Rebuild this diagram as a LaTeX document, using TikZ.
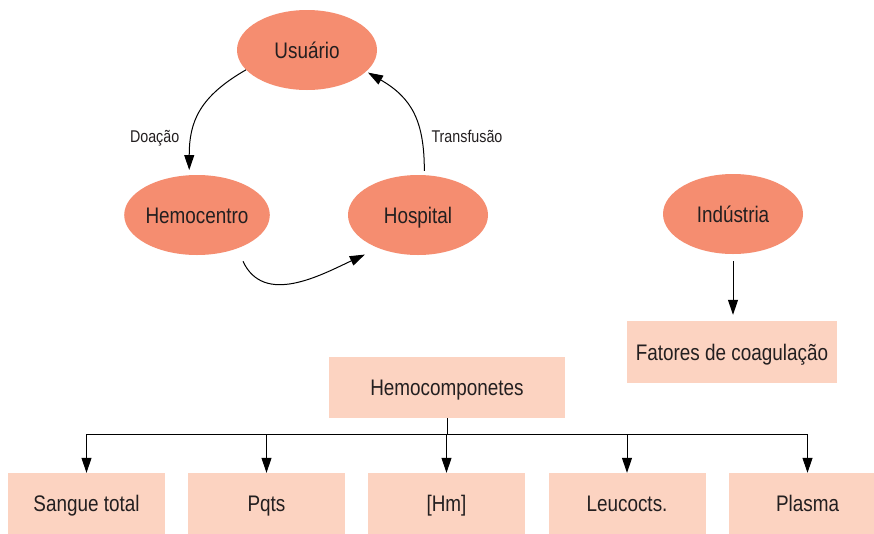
\documentclass[tikz,border=0pt]{standalone}
\usepackage{fontspec}
\setmainfont[FakeStretch=0.84]{Liberation Sans}
\usetikzlibrary{shapes.geometric,arrows.meta}
\definecolor{elfill}{RGB}{245,141,112}
\definecolor{boxfill}{RGB}{252,211,193}
\definecolor{ink}{RGB}{35,31,32}

\begin{document}
\begin{tikzpicture}[x=1pt,y=-1pt,
		ent/.style={ellipse, fill=elfill, minimum width=140pt, minimum height=80pt, inner sep=0pt, text=ink, font=\fontsize{22.5}{24}\selectfont, text height=16pt, text depth=0pt},
		comp/.style={rectangle, fill=boxfill, minimum width=157pt, minimum height=61pt, inner sep=0pt, text=ink, font=\fontsize{22.5}{24}\selectfont, text height=16pt, text depth=0pt},
		flow/.style={line width=1pt, -{Triangle[length=15pt,width=10pt]}},
		lbl/.style={text=ink, font=\fontsize{17}{19}\selectfont}]
		\clip (0,0) rectangle (874,533);
		\fill[white] (0,0) rectangle (874,533);
		% ciclo do sangue
		\node[ent] (usu) at (307,50) {Usuário};
		\node[ent] (hemo) at (197,215) {Hemocentro};
		\node[ent] (hosp) at (418,215) {Hospital};
		\draw[flow, shorten >=5pt] (usu.198) to[out=210, in=90, looseness=1.15]
		node[lbl, left, pos=0.74, inner xsep=12pt] {Doação} (hemo.101);
		\draw[flow, shorten <=4pt, shorten >=2pt] (hosp.81) to[out=90, in=-30, looseness=1.15]
		node[lbl, right, pos=0.28, inner xsep=10pt] {Transfusão} (usu.340);
		\draw[flow, shorten <=14pt, shorten >=15pt] (hemo.-40) to[out=-65, in=205, looseness=1.15] (hosp.220);
		% industria
		\node[ent] (ind) at (733,214) {Indústria};
		\node[comp, minimum width=210pt, minimum height=62pt] (fat) at (732,352) {Fatores de coagulação};
		\draw[flow, shorten <=7pt, shorten >=6pt] (ind.south) -- (fat.north -| ind.south);
		% hemocomponentes
		\node[comp, minimum width=236pt] (hemoc) at (447,387.5) {Hemocomponetes};
		\node[comp] (sangue) at (86.5,503.5) {Sangue total};
		\node[comp] (pqts) at (266.5,503.5) {Pqts};
		\node[comp] (hm) at (446.5,503.5) {[Hm]};
		\node[comp] (leuco) at (627,503.5) {Leucocts.};
		\node[comp] (plasma) at (807.5,503.5) {Plasma};
		\draw[line width=1pt] (hemoc.south) -- ++(0,16) coordinate (bus);
		\foreach \n in {sangue,pqts,hm,leuco,plasma}
		\draw[flow] (bus) -| (\n.north);
	\end{tikzpicture}
\end{document}
